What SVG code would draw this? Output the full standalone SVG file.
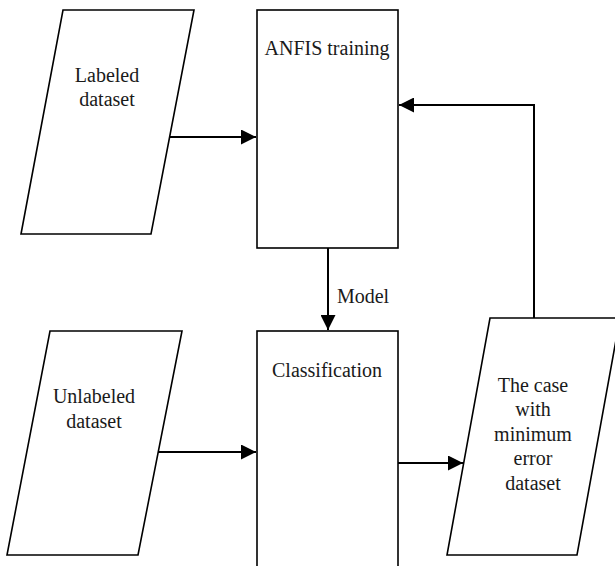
<svg xmlns="http://www.w3.org/2000/svg" width="615" height="566" viewBox="0 0 615 566">
<style>
.shape{fill:#fff;stroke:#000;stroke-width:1.6}
.conn{fill:none;stroke:#000;stroke-width:2}
.t{font-family:'Liberation Serif','Times New Roman','DejaVu Serif',serif;font-size:20px;fill:#1a1a1a;text-anchor:middle}
</style>
<defs>
<marker id="ah" markerWidth="15" markerHeight="15" viewBox="0 0 15 15" refX="15" refY="7.5" orient="auto" markerUnits="userSpaceOnUse">
<path d="M0,0 L15,7.5 L0,15 Z" fill="#000"/>
</marker>
</defs>
<rect width="615" height="566" fill="#fff"/>
<g id="labeled">
<polygon class="shape" points="63,10 194,10 151,234 21,234"/>
<text class="t" font-family="Liberation Serif, serif" x="107" y="82">Labeled</text>
<text class="t" font-family="Liberation Serif, serif" x="107" y="106">dataset</text>
</g>
<g id="anfis">
<rect class="shape" x="257" y="10" width="141" height="238"/>
<text class="t" font-family="Liberation Serif, serif" x="327" y="55">ANFIS training</text>
</g>
<g id="unlabeled">
<polygon class="shape" points="50,331 182,331 138,555 7,555"/>
<text class="t" font-family="Liberation Serif, serif" x="94" y="403">Unlabeled</text>
<text class="t" font-family="Liberation Serif, serif" x="94" y="428">dataset</text>
</g>
<g id="classification">
<rect class="shape" x="257" y="331" width="141" height="240"/>
<text class="t" font-family="Liberation Serif, serif" x="327" y="377">Classification</text>
</g>
<g id="case">
<polygon class="shape" points="490,318 620,318 577,555 447,555"/>
<text class="t" font-family="Liberation Serif, serif" x="533" y="392">The case</text>
<text class="t" font-family="Liberation Serif, serif" x="533" y="416">with</text>
<text class="t" font-family="Liberation Serif, serif" x="533" y="441">minimum</text>
<text class="t" font-family="Liberation Serif, serif" x="533" y="465">error</text>
<text class="t" font-family="Liberation Serif, serif" x="533" y="490">dataset</text>
</g>
<g id="connectors">
<path class="conn" d="M170,137 H256" marker-end="url(#ah)"/>
<path class="conn" d="M328,248 V330" marker-end="url(#ah)"/>
<text class="t" font-family="Liberation Serif, serif" x="363" y="303">Model</text>
<path class="conn" d="M158,452 H256" marker-end="url(#ah)"/>
<path class="conn" d="M398,463 H463" marker-end="url(#ah)"/>
<path class="conn" d="M534,318 V105 H399" marker-end="url(#ah)"/>
</g>
</svg>
